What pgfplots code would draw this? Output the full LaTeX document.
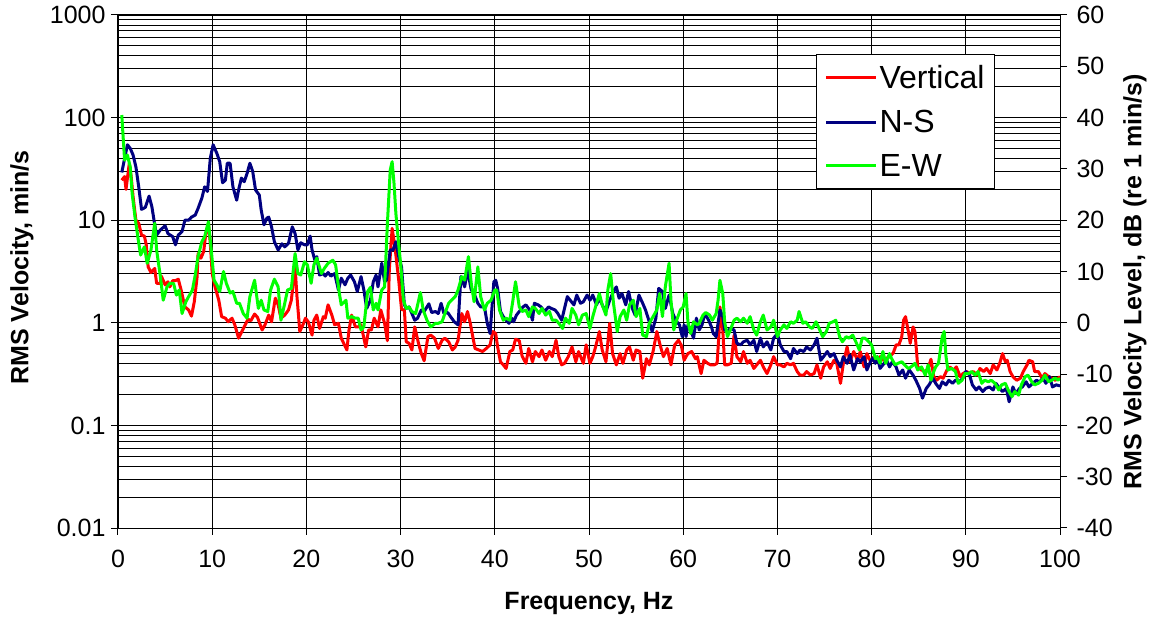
\documentclass[border=0pt]{standalone}
\usepackage{fontspec}
\setmainfont{Liberation Sans}
\usepackage{pgfplots}
\pgfplotsset{compat=1.18}
\definecolor{vred}{RGB}{255,0,0}
\definecolor{nsblue}{RGB}{0,0,128}
\definecolor{ewgreen}{RGB}{0,255,0}
\begin{document}
\begin{tikzpicture}
\pgfplotsset{
  every axis/.append style={
    scale only axis, width=942pt, height=513pt,
    xmin=0, xmax=100,
    /pgf/number format/assume math mode=true,
    tick label style={font=\fontsize{25}{25}\selectfont},
    tick align=outside, major tick length=7pt, minor tick length=0pt,
    axis line style={line width=1pt}, every tick/.style={black, line width=1pt},
  },
}
\begin{axis}[
  name=main,
  ymode=log, ymin=0.01, ymax=1000,
  xtick={0,10,...,100}, xtick pos=bottom, ytick pos=left,
  ytick={0.01,0.1,1,10,100,1000},
  yticklabels={0.01,0.1,1,10,100,1000},
  minor ytick={0.02,0.03,0.04,0.05,0.06,0.07,0.08,0.09,
               0.2,0.3,0.4,0.5,0.6,0.7,0.8,0.9,
               2,3,4,5,6,7,8,9,20,30,40,50,60,70,80,90,
               200,300,400,500,600,700,800,900},
  xticklabel style={yshift=-12pt},
  yticklabel style={xshift=-2pt},
  xmajorgrids, ymajorgrids, yminorgrids,
  major grid style={black, line width=0.8pt},
  minor grid style={black, line width=0.8pt},
  xlabel={Frequency, Hz},
  xlabel style={font=\fontsize{25}{25}\selectfont\bfseries, at={(axis description cs:0.5,-0.148)}, anchor=center},
  ylabel={RMS Velocity, min/s},
  ylabel style={font=\fontsize{25}{25}\selectfont\bfseries, at={(axis description cs:-0.102,0.508)}, anchor=center},
]
\end{axis}
\begin{axis}[
  ymin=-40, ymax=60,
  axis y line*=right, axis x line=none,
  ytick={-40,-30,...,60},
  yticklabel style={xshift=6pt},
  ylabel={RMS Velocity Level, dB (re 1 min/s)},
  ylabel style={font=\fontsize{25}{25}\selectfont\bfseries, at={(axis description cs:1.0796,0.48)}, anchor=center},
  legend style={at={(0.931,0.924)}, anchor=north east, draw=black, line width=1pt, fill=white,
    font=\fontsize{32}{32}\selectfont, row sep=16pt, inner xsep=8pt, inner ysep=9pt},
  legend cell align=left,
  legend image code/.code={\draw[#1, line width=3pt] (0pt,0pt) -- (50pt,0pt);},
  every axis plot/.append style={line width=3pt, line join=round, no markers},
]
\addplot[vred] coordinates {
(0.4,27.8) (0.7,28.5) (0.85,26.0) (1.2,31.1) (1.4,28.5) (1.6,24.6) (1.9,20.0) (2.2,19.4) (2.5,17.1) (2.8,16.9)
(3.0,15.2) (3.2,10.9) (3.5,9.8) (3.9,10.6) (4.1,7.7) (4.5,7.7) (4.6,9.1) (5.0,7.4) (5.3,8.0) (5.5,7.0)
(5.8,8.2) (6.1,8.2) (6.4,8.5) (6.7,6.4) (7.1,3.1) (7.5,2.5) (7.8,1.3) (8.1,4.1) (8.4,9.0) (8.5,13.5)
(8.8,12.6) (9.1,13.9) (9.3,17.1) (9.6,19.4) (9.8,15.5) (10.0,9.6) (10.3,7.0) (10.7,4.4) (11.0,1.2) (11.4,0.9)
(11.7,0.2) (12.1,0.9) (12.4,-0.4) (12.8,-3.0) (13.1,-1.9) (13.5,-0.4) (13.8,0.7) (14.1,0.4) (14.5,1.7) (14.8,1.1)
(15.3,-1.4) (15.6,-0.4) (16.0,1.5) (16.3,0.2) (16.7,4.8) (17.0,3.5) (17.3,0.9) (17.7,1.5) (18.1,2.5) (18.4,4.4)
(18.8,10.9) (19.0,5.1) (19.3,-1.7) (19.7,-0.1) (19.9,0.9) (20.2,0.2) (20.6,-2.4) (20.8,0.5) (21.1,1.5) (21.4,-1.1)
(21.8,1.2) (22.0,0.9) (22.3,3.5) (22.7,1.5) (23.0,-0.4) (23.4,-0.1) (23.7,-3.0) (24.3,-5.3) (24.5,-1.7) (24.8,1.5)
(25.2,-0.8) (25.5,-0.8) (25.8,-0.4) (26.3,-4.7) (26.6,-1.4) (26.9,-1.4) (27.2,0.9) (27.6,-0.8) (27.9,2.5) (28.3,-0.1)
(28.6,-3.5) (28.8,10.3) (29.1,18.4) (29.4,14.8) (29.8,8.3) (30.1,2.6) (30.4,2.5) (30.6,-3.7) (30.9,-4.0) (31.2,-5.3)
(31.5,-0.8) (31.9,-4.0) (32.2,-6.0) (32.5,-7.4) (32.9,-2.7) (33.2,-2.4) (33.6,-3.0) (34.0,-5.0) (34.4,-3.4) (34.7,-3.0)
(35.1,-3.7) (35.5,-5.3) (35.8,-4.7) (36.1,-3.4) (36.5,1.8) (36.8,0.2) (37.1,2.2) (37.4,-0.1) (37.6,-2.1) (37.9,-5.0)
(38.3,-5.3) (38.7,-5.6) (39.1,-5.0) (39.5,-4.3) (39.8,-1.7) (40.1,-2.1) (40.3,-4.7) (40.6,-7.6) (40.9,-8.2) (41.2,-8.9)
(41.6,-5.6) (41.9,-5.3) (42.2,-3.2) (42.6,-3.5) (42.9,-6.5) (43.3,-7.9) (43.6,-5.0) (44.0,-7.6) (44.3,-5.6) (44.7,-6.6)
(45.0,-5.3) (45.4,-7.3) (45.8,-5.6) (46.1,-6.6) (46.5,-3.4) (46.8,-6.6) (47.1,-8.2) (47.4,-7.9) (47.8,-6.6) (48.2,-4.7)
(48.6,-7.6) (48.9,-5.6) (49.4,-7.9) (49.7,-4.3) (50.1,-7.9) (50.4,-6.6) (50.7,-4.7) (51.1,-1.7) (51.4,-5.3) (51.8,-7.6)
(52.2,-0.1) (52.5,-6.0) (52.9,-8.2) (53.3,-6.0) (53.6,-7.9) (54.0,-5.3) (54.3,-4.7) (54.7,-7.3) (55.0,-5.3) (55.4,-5.6)
(55.7,-10.8) (56.1,-7.0) (56.4,-8.2) (56.8,-5.6) (57.2,-1.7) (57.5,-4.0) (57.9,-6.6) (58.3,-5.0) (58.7,-8.2) (59.1,-4.3)
(59.5,-3.4) (59.8,-4.4) (60.1,-7.3) (60.3,-6.6) (60.5,-6.0) (60.9,-5.6) (61.3,-7.0) (61.5,-6.6) (61.9,-9.9) (62.2,-7.3)
(62.6,-7.9) (62.9,-8.2) (63.3,-8.2) (63.6,-7.9) (63.8,-2.1) (63.9,3.1) (64.2,-1.4) (64.4,-8.2) (64.7,-8.2) (65.1,-7.9)
(65.4,-2.4) (65.7,-6.6) (66.1,-7.6) (66.4,-5.6) (66.8,-7.9) (67.1,-7.3) (67.5,-8.9) (67.8,-8.2) (68.2,-7.3) (68.5,-8.6)
(68.9,-9.9) (69.3,-8.2) (69.6,-6.6) (70.0,-8.2) (70.3,-8.2) (70.7,-8.6) (71.0,-7.9) (71.4,-8.2) (71.7,-7.9) (72.1,-9.5)
(72.4,-10.2) (72.8,-10.2) (73.1,-9.5) (73.5,-10.2) (73.9,-9.9) (74.2,-8.2) (74.6,-10.8) (74.9,-8.6) (75.3,-7.6) (75.6,-8.9)
(76.0,-7.3) (76.3,-7.9) (76.7,-11.8) (77.0,-7.9) (77.4,-4.7) (77.7,-7.6) (78.1,-5.6) (78.5,-7.3) (78.8,-5.6) (79.2,-8.6)
(79.5,-6.0) (79.9,-7.6) (80.2,-6.7) (80.5,-7.6) (80.9,-6.6) (81.2,-7.3) (81.6,-6.9) (81.9,-6.6) (82.3,-5.9) (82.6,-4.3)
(82.9,-4.3) (83.2,-2.7) (83.4,0.5) (83.6,1.2) (83.9,-1.7) (84.1,-4.0) (84.4,-0.8) (84.6,-1.7) (84.9,-8.6) (85.3,-9.2)
(85.7,-9.5) (86.0,-8.9) (86.3,-7.1) (86.6,-10.5) (86.9,-11.2) (87.3,-10.5) (87.6,-10.8) (88.0,-9.2) (88.3,-8.6) (88.7,-9.2)
(89.0,-8.6) (89.4,-10.5) (89.7,-9.9) (90.1,-9.5) (90.4,-9.9) (90.8,-9.5) (91.2,-10.2) (91.5,-8.9) (91.9,-9.5) (92.2,-8.9)
(92.6,-9.9) (92.9,-8.2) (93.3,-9.2) (93.6,-7.9) (93.9,-6.0) (94.2,-7.6) (94.4,-7.3) (94.7,-9.5) (95.0,-10.5) (95.4,-11.2)
(95.8,-10.8) (96.1,-9.5) (96.5,-8.2) (96.7,-7.3) (97.1,-7.6) (97.3,-9.5) (97.7,-9.5) (98.1,-10.8) (98.4,-9.9) (98.8,-10.5)
(99.1,-10.8) (99.5,-11.2) (99.8,-10.8) (100.0,-10.5)
};
\addlegendentry{Vertical}
\addplot[nsblue] coordinates {
(0.4,29.3) (1.0,34.7) (1.3,34.0) (1.6,32.7) (1.9,30.4) (2.2,26.5) (2.5,22.1) (2.9,22.5) (3.3,24.7) (3.6,22.6)
(3.9,19.1) (4.1,17.1) (4.5,18.1) (5.0,18.9) (5.3,17.4) (5.8,16.8) (6.1,15.2) (6.4,17.1) (6.8,17.8) (7.1,20.0)
(7.5,20.0) (7.8,20.6) (8.2,21.0) (8.5,22.3) (8.9,24.3) (9.2,26.5) (9.5,25.6) (9.8,32.1) (10.1,34.7) (10.5,33.0)
(10.8,31.4) (11.1,27.3) (11.4,27.8) (11.6,31.1) (11.9,31.1) (12.2,26.5) (12.6,23.9) (12.8,25.9) (13.1,28.2) (13.4,27.5)
(13.7,29.1) (14.0,31.1) (14.3,29.5) (14.6,25.9) (15.0,24.9) (15.2,22.0) (15.5,19.1) (15.8,20.4) (16.0,20.6) (16.3,18.7)
(16.6,15.8) (17.0,14.2) (17.4,15.4) (17.7,14.8) (18.1,15.5) (18.5,18.7) (18.8,17.4) (19.1,14.2) (19.4,15.6) (19.8,15.2)
(20.1,15.2) (20.4,16.9) (20.6,14.2) (20.9,12.2) (21.1,12.9) (21.4,9.3) (21.8,9.6) (22.0,9.1) (22.3,9.8) (22.6,9.1)
(23.0,9.6) (23.4,6.4) (23.7,8.7) (24.1,7.4) (24.4,8.7) (24.7,9.3) (25.1,8.0) (25.4,6.1) (25.8,9.0) (26.1,6.4)
(26.4,2.8) (26.8,4.4) (27.1,8.0) (27.4,9.3) (27.6,7.0) (28.0,11.6) (28.3,8.0) (28.5,8.3) (28.9,14.2) (29.2,14.2)
(29.5,15.8) (29.8,12.9) (30.1,10.9) (30.4,3.5) (30.6,2.8) (30.9,3.1) (31.2,1.8) (31.5,0.5) (31.8,0.9) (32.2,2.5)
(32.5,2.2) (33.0,3.7) (33.3,2.0) (33.7,2.2) (34.0,1.8) (34.3,3.8) (34.6,1.8) (35.0,2.0) (35.3,1.2) (35.7,0.2)
(36.1,-0.4) (36.4,9.0) (36.8,7.0) (37.1,10.3) (37.5,6.4) (37.8,5.7) (38.2,3.8) (38.5,3.1) (38.9,3.1) (39.2,-0.1)
(39.5,-2.1) (39.9,8.0) (40.1,8.3) (40.3,6.7) (40.6,2.2) (40.9,1.2) (41.2,0.5) (41.5,-0.1) (41.8,0.9) (42.0,0.2)
(42.3,1.5) (42.6,2.2) (43.0,3.1) (43.3,3.5) (43.7,2.5) (44.0,0.5) (44.2,3.8) (44.6,3.5) (44.9,3.1) (45.3,2.2)
(45.7,3.1) (46.0,2.8) (46.4,2.5) (46.7,1.8) (47.1,0.5) (47.4,2.8) (47.7,5.1) (48.0,4.4) (48.4,3.5) (48.7,5.4)
(49.1,3.8) (49.4,4.1) (49.8,5.4) (50.1,4.4) (50.4,5.4) (50.8,3.5) (51.1,4.8) (51.5,3.1) (51.8,2.2) (52.2,4.4)
(52.6,6.1) (52.9,7.0) (53.2,4.8) (53.5,5.7) (53.9,3.5) (54.2,6.1) (54.6,2.8) (54.9,1.5) (55.3,5.4) (55.7,3.8)
(56.0,2.5) (56.4,0.2) (56.7,-1.7) (57.1,0.9) (57.4,6.7) (57.8,6.1) (58.1,2.8) (58.5,5.4) (58.9,1.8) (59.2,0.5)
(59.6,-0.4) (59.9,-2.7) (60.1,-0.4) (60.3,-2.7) (60.5,-0.4) (60.8,-1.4) (61.1,-3.0) (61.4,0.9) (61.7,-1.4) (62.0,-0.4)
(62.3,1.8) (62.7,0.5) (63.0,-0.8) (63.2,-2.1) (63.5,-2.7) (63.7,-0.1) (63.9,2.5) (64.2,1.2) (64.4,-1.4) (64.7,-1.7)
(65.0,-1.1) (65.4,-1.4) (65.7,-4.0) (66.1,-4.3) (66.4,-3.7) (66.8,-3.4) (67.1,-4.3) (67.5,-3.4) (67.8,-5.6) (68.2,-3.0)
(68.5,-4.7) (68.9,-3.7) (69.3,-5.3) (69.6,-3.0) (70.0,-2.1) (70.3,-4.3) (70.7,-5.6) (71.0,-5.6) (71.4,-7.0) (71.7,-5.0)
(72.1,-6.0) (72.4,-5.3) (72.8,-5.6) (73.1,-4.7) (73.5,-5.3) (73.9,-4.3) (74.2,-3.0) (74.6,-7.3) (74.9,-6.6) (75.3,-5.6)
(75.6,-6.6) (76.0,-6.0) (76.3,-7.3) (76.7,-8.6) (77.0,-6.6) (77.4,-7.9) (77.7,-6.3) (78.1,-9.2) (78.5,-7.0) (78.8,-7.6)
(79.2,-6.6) (79.5,-9.2) (79.9,-7.5) (80.1,-6.9) (80.4,-7.9) (80.6,-6.6) (80.9,-8.9) (81.2,-8.2) (81.6,-7.3) (81.9,-8.6)
(82.2,-7.6) (82.6,-8.6) (82.9,-10.2) (83.3,-9.2) (83.6,-10.8) (84.0,-9.2) (84.4,-10.2) (84.7,-11.2) (85.1,-12.8) (85.4,-14.7)
(85.8,-12.8) (86.1,-12.1) (86.5,-10.8) (86.8,-11.8) (87.2,-12.8) (87.5,-11.5) (87.9,-12.1) (88.2,-11.2) (88.6,-11.8) (88.9,-11.2)
(89.3,-11.5) (89.7,-10.8) (90.0,-9.5) (90.4,-10.2) (90.7,-12.1) (91.1,-13.1) (91.4,-12.5) (91.8,-13.4) (92.1,-12.8) (92.5,-12.5)
(92.9,-13.1) (93.2,-11.8) (93.6,-12.8) (93.9,-13.4) (94.3,-12.8) (94.6,-15.4) (95.0,-12.5) (95.3,-13.8) (95.7,-12.8) (96.0,-12.5)
(96.4,-11.5) (96.7,-12.5) (97.1,-11.8) (97.5,-11.2) (97.8,-11.5) (98.2,-10.8) (98.5,-11.8) (98.9,-10.5) (99.2,-12.5) (99.6,-12.1)
(100.0,-12.3)
};
\addlegendentry{N-S}
\addplot[ewgreen] coordinates {
(0.4,40.5) (0.7,31.7) (1.0,32.7) (1.3,30.4) (1.5,25.2) (1.8,20.7) (2.1,16.8) (2.4,13.2) (2.8,14.8) (3.1,11.6)
(3.5,14.2) (3.9,19.4) (4.1,14.2) (4.5,9.0) (4.8,4.4) (5.2,7.0) (5.5,7.7) (5.9,7.7) (6.2,5.4) (6.5,6.4)
(6.8,1.8) (7.2,4.1) (7.5,5.1) (7.9,6.4) (8.2,9.3) (8.5,12.9) (8.9,15.8) (9.2,16.8) (9.6,19.7) (9.9,14.2)
(10.2,8.3) (10.5,7.4) (10.8,6.1) (11.2,10.0) (11.5,7.7) (11.9,5.8) (12.2,6.1) (12.6,3.8) (12.9,3.8) (13.3,1.8)
(13.7,0.9) (14.0,5.1) (14.5,8.3) (14.9,2.8) (15.2,4.4) (15.5,2.5) (15.9,2.2) (16.2,6.4) (16.6,8.5) (17.0,7.0)
(17.3,0.5) (17.7,3.8) (18.0,6.4) (18.4,6.7) (18.8,13.5) (19.1,9.6) (19.4,9.3) (19.8,11.9) (20.1,11.3) (20.5,7.7)
(20.8,11.3) (21.1,12.6) (21.6,9.6) (21.9,10.6) (22.3,11.6) (22.8,12.2) (23.1,11.3) (23.5,5.7) (23.7,3.5) (24.2,4.4)
(24.4,0.9) (24.8,1.2) (25.2,0.9) (25.5,0.9) (25.8,-1.4) (26.1,-0.8) (26.5,6.1) (26.8,6.9) (27.1,2.5) (27.4,3.8)
(27.6,2.5) (28.0,6.4) (28.3,7.0) (28.6,19.4) (28.9,29.8) (29.1,31.4) (29.3,27.2) (29.5,21.3) (29.8,15.2) (30.0,11.6)
(30.3,4.4) (30.6,2.8) (30.9,3.1) (31.2,2.2) (31.6,1.8) (32.1,5.9) (32.4,2.5) (32.8,0.5) (33.2,-0.8) (33.7,-0.1)
(34.0,-0.1) (34.4,0.2) (34.7,1.8) (35.1,3.8) (35.4,4.4) (35.8,5.1) (36.1,6.4) (36.5,9.0) (36.8,8.3) (37.2,12.9)
(37.5,7.7) (37.8,4.1) (38.2,10.9) (38.5,5.1) (38.9,2.5) (39.2,3.8) (39.6,4.4) (40.0,6.4) (40.2,6.4) (40.5,2.5)
(40.9,0.5) (41.2,0.9) (41.6,0.5) (41.9,4.1) (42.2,8.0) (42.6,3.1) (42.9,2.2) (43.3,2.5) (43.6,1.2) (44.0,3.1)
(44.3,2.8) (44.7,1.8) (45.0,2.8) (45.4,1.5) (45.8,2.2) (46.1,0.5) (46.5,0.5) (46.8,-0.1) (47.2,-1.1) (47.5,0.9)
(47.9,-0.1) (48.2,2.8) (48.6,1.5) (48.9,-0.4) (49.3,1.5) (49.7,1.8) (50.1,-1.1) (50.4,1.2) (50.8,3.8) (51.1,5.7)
(51.4,3.5) (51.8,1.5) (52.0,6.4) (52.3,9.6) (52.6,3.8) (53.0,-1.7) (53.3,1.2) (53.7,2.5) (54.0,0.5) (54.3,3.5)
(54.7,4.4) (55.0,1.2) (55.4,2.8) (55.7,-2.4) (56.1,-2.7) (56.4,-0.1) (56.8,1.2) (57.2,2.5) (57.5,5.7) (57.8,1.2)
(58.1,7.0) (58.5,11.6) (58.7,4.4) (59.0,-1.4) (59.3,0.5) (59.7,2.5) (60.0,3.1) (60.3,5.7) (60.5,0.2) (60.8,-2.1)
(61.1,0.2) (61.5,-0.4) (61.7,-0.1) (62.1,1.5) (62.4,2.0) (62.8,1.5) (63.1,0.5) (63.5,1.8) (63.7,4.4) (63.9,8.3)
(64.2,5.7) (64.4,0.2) (64.7,-2.7) (65.0,-1.4) (65.4,0.5) (65.7,0.9) (66.1,0.2) (66.4,0.9) (66.8,-0.1) (67.1,1.2)
(67.5,-1.4) (67.8,-2.4) (68.2,0.2) (68.5,1.5) (68.9,-1.4) (69.3,-0.8) (69.6,0.5) (70.0,-2.7) (70.3,-1.4) (70.7,-0.4)
(71.0,-1.1) (71.4,0.2) (71.7,-0.1) (72.1,0.5) (72.3,2.2) (72.7,-0.1) (73.0,0.2) (73.4,-0.8) (73.7,-1.1) (74.1,0.2)
(74.5,-1.4) (74.8,-2.7) (75.2,-1.7) (75.5,-0.1) (75.9,0.2) (76.2,0.5) (76.6,-2.7) (76.9,-3.7) (77.3,-2.7) (77.6,-3.0)
(78.0,-2.4) (78.4,-4.0) (78.7,-5.3) (79.0,-3.0) (79.3,-3.0) (79.7,-3.7) (80.0,-4.3) (80.4,-7.0) (80.6,-6.6) (80.9,-7.9)
(81.2,-5.6) (81.5,-7.9) (81.9,-6.0) (82.1,-6.9) (82.5,-8.2) (82.8,-7.9) (83.2,-7.6) (83.5,-8.2) (83.9,-8.9) (84.2,-8.6)
(84.6,-7.9) (84.9,-9.2) (85.3,-8.6) (85.7,-10.2) (86.0,-8.2) (86.3,-11.2) (86.6,-9.5) (86.8,-8.6) (87.1,-7.9) (87.3,-5.3)
(87.5,-2.7) (87.7,-1.7) (87.9,-6.6) (88.1,-9.2) (88.5,-8.9) (88.9,-9.5) (89.2,-11.8) (89.6,-11.2) (89.9,-9.9) (90.3,-9.9)
(90.6,-9.5) (91.0,-10.2) (91.3,-9.5) (91.7,-11.8) (92.0,-11.2) (92.4,-11.5) (92.7,-11.2) (93.1,-11.8) (93.5,-13.1) (93.8,-12.1)
(94.2,-11.8) (94.5,-13.1) (94.9,-14.4) (95.2,-13.4) (95.6,-14.1) (95.9,-12.1) (96.3,-10.5) (96.6,-10.2) (97.0,-11.5) (97.3,-12.1)
(97.7,-11.8) (98.1,-11.2) (98.4,-10.2) (98.8,-11.5) (99.1,-11.2) (99.5,-10.8) (99.8,-11.2) (100.0,-10.8)
};
\addlegendentry{E-W}
\end{axis}
\path (main.south west) ++(-118pt,-95pt) coordinate (bbbl);
\path (main.north east) ++(97pt,15pt) coordinate (bbtr);
\pgfresetboundingbox
\path[use as bounding box] (bbbl) rectangle (bbtr);
\end{tikzpicture}
\end{document}
